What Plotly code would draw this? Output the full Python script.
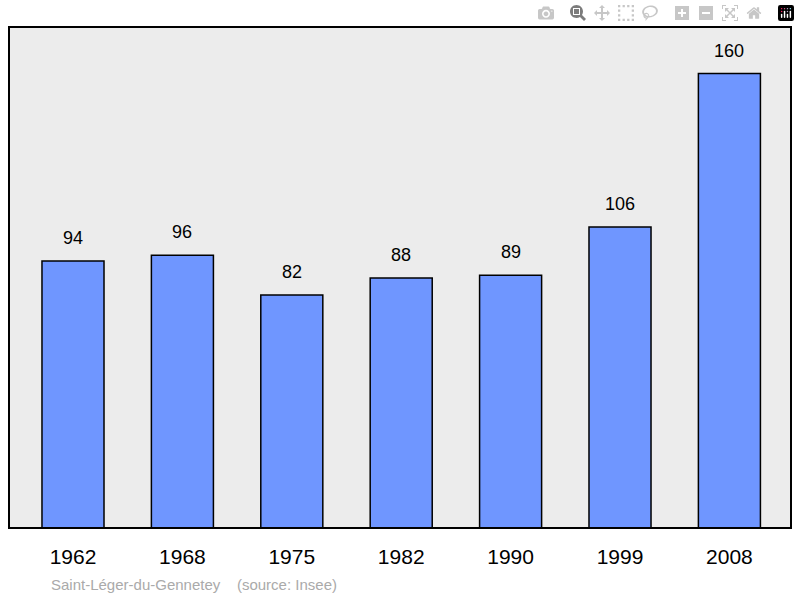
import plotly.graph_objects as go

years = ["1962", "1968", "1975", "1982", "1990", "1999", "2008"]
population = [94, 96, 82, 88, 89, 106, 160]
xs = list(range(len(years)))

fig = go.Figure(go.Bar(
    x=xs, y=population, width=0.567,
    marker=dict(color="#6f96ff", line=dict(color="black", width=1.5)),
    hoverinfo="skip",
))
for x, v in zip(xs, population):
    fig.add_annotation(x=x, y=v, text=str(v), showarrow=False, yanchor="bottom",
                       yshift=11, font=dict(family="Liberation Sans, Arial", size=18, color="black"))
fig.add_annotation(xref="paper", yref="paper", x=0.051, y=-0.112, xanchor="left", yanchor="middle",
                   text="Saint-Léger-du-Gennetey &nbsp;&nbsp;&nbsp;(source: Insee)", showarrow=False,
                   font=dict(family="Liberation Sans, Arial", size=15, color="#aaaaaa"))
fig.add_shape(type="rect", xref="paper", yref="paper", x0=0, x1=1, y0=0, y1=1,
              line=dict(color="black", width=2), layer="above")
fig.update_layout(
    width=800, height=598, margin=dict(l=9, r=9, t=27, b=70),
    paper_bgcolor="white", plot_bgcolor="#ececec", showlegend=False,
    xaxis=dict(range=[-0.585, 6.563], tickvals=xs, ticktext=years, showgrid=False, zeroline=False,
               ticks="", ticklabelstandoff=14,
               tickfont=dict(family="Liberation Sans, Arial", size=21, color="black")),
    yaxis=dict(range=[0, 176.4], visible=False, showgrid=False, zeroline=False),
)
fig.write_html("out.html", post_script="document.body.style.margin='0';document.body.style.overflow='hidden';")
